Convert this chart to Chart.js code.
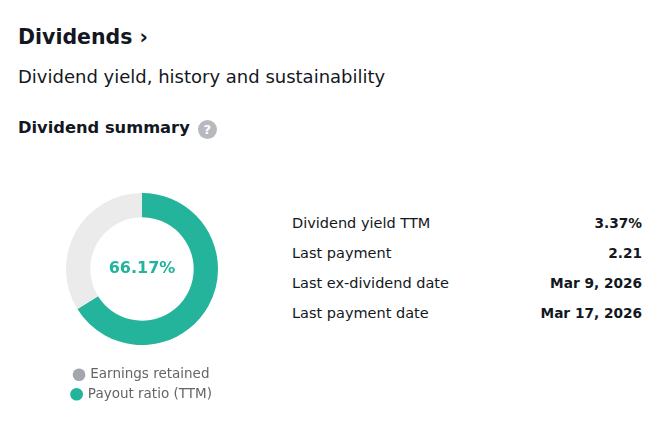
<!DOCTYPE html>
<html lang="en">
<head>
    <meta charset="UTF-8">
    <title>Dividends</title>
    <script src="https://cdn.jsdelivr.net/npm/chart.js"></script>
    <style>
        body {
            margin: 0;
            width: 667px;
            height: 430px;
            background: #fff;
            color: #131722;
            font-family: "DejaVu Sans", Verdana, sans-serif;
            position: relative;
            overflow: hidden;
        }
        h2 {
            position: absolute; left: 18px; top: 25px; margin: 0;
            font-size: 20.5px; font-weight: bold;
        }
        .sub {
            position: absolute; left: 18px; top: 66px; margin: 0;
            font-size: 18px;
        }
        h3 {
            position: absolute; left: 18px; top: 118px; margin: 0;
            font-size: 16.3px; font-weight: bold;
        }
        .help {
            display: inline-block; width: 19px; height: 19px; border-radius: 50%;
            background: #b8b9bf; color: #fff; font-size: 13px; text-align: center;
            line-height: 19px; margin-left: 8px; vertical-align: -1px;
        }
        #chartBox {
            position: absolute; left: 52px; top: 185px; width: 180px; height: 226px;
        }
        table {
            position: absolute; left: 292px; top: 208px; width: 350px;
            border-collapse: collapse; font-size: 14.5px;
        }
        td { padding: 0; height: 30px; }
        td.v { text-align: right; font-weight: bold; font-size: 13.7px; }
    </style>
</head>
<body>
    <h2>Dividends &#8250;</h2>
    <p class="sub">Dividend yield, history and sustainability</p>
    <h3>Dividend summary<span class="help">?</span></h3>

    <div id="chartBox"><canvas id="payoutChart"></canvas></div>

    <table id="summary"></table>

    <script>
        const sliceLabels = ['Payout ratio (TTM)', 'Earnings retained'];
        const sliceValues = [66.17, 33.83];
        const legendOrder = ['Earnings retained', 'Payout ratio (TTM)'];
        const rowLabels = ['Dividend yield TTM', 'Last payment', 'Last ex-dividend date', 'Last payment date'];
        const rowValues = ['3.37%', '2.21', 'Mar 9, 2026', 'Mar 17, 2026'];

        const teal = '#24b39b';
        const grey = '#ebebeb';
        const fontFamily = '"DejaVu Sans", Verdana, sans-serif';

        const table = document.getElementById('summary');
        rowLabels.forEach((label, i) => {
            const tr = document.createElement('tr');
            tr.innerHTML = `<td>${label}</td><td class="v">${rowValues[i]}</td>`;
            table.appendChild(tr);
        });

        const centerText = {
            id: 'centerText',
            afterDraw(chart) {
                const arc = chart.getDatasetMeta(0).data[0];
                if (!arc) return;
                const ctx = chart.ctx;
                ctx.save();
                ctx.font = 'bold 16px ' + fontFamily;
                ctx.fillStyle = teal;
                ctx.textAlign = 'center';
                ctx.textBaseline = 'middle';
                ctx.fillText(sliceValues[0].toFixed(2) + '%', arc.x, arc.y);
                ctx.restore();
            }
        };

        new Chart(document.getElementById('payoutChart'), {
            type: 'doughnut',
            data: {
                labels: sliceLabels,
                datasets: [{
                    data: sliceValues,
                    backgroundColor: [teal, grey],
                    borderWidth: 0
                }]
            },
            options: {
                responsive: true,
                maintainAspectRatio: false,
                animation: false,
                cutout: '68%',
                layout: { padding: { top: 8 } },
                plugins: {
                    tooltip: { enabled: false },
                    legend: {
                        position: 'bottom',
                        title: { display: true, text: '', font: { size: 10 }, padding: { top: 0, bottom: 5 } },
                        labels: {
                            usePointStyle: true,
                            pointStyle: 'circle',
                            boxWidth: 9,
                            boxHeight: 9,
                            padding: 6,
                            color: '#707380',
                            font: { family: fontFamily, size: 13.5 },
                            generateLabels() {
                                return legendOrder.map(name => {
                                    const idx = sliceLabels.indexOf(name);
                                    return {
                                        text: name,
                                        fillStyle: idx === 0 ? teal : '#a3a6af',
                                        strokeStyle: 'transparent',
                                        lineWidth: 0,
                                        pointStyle: 'circle',
                                        index: idx
                                    };
                                });
                            }
                        }
                    }
                }
            },
            plugins: [centerText]
        });
    </script>
</body>
</html>
